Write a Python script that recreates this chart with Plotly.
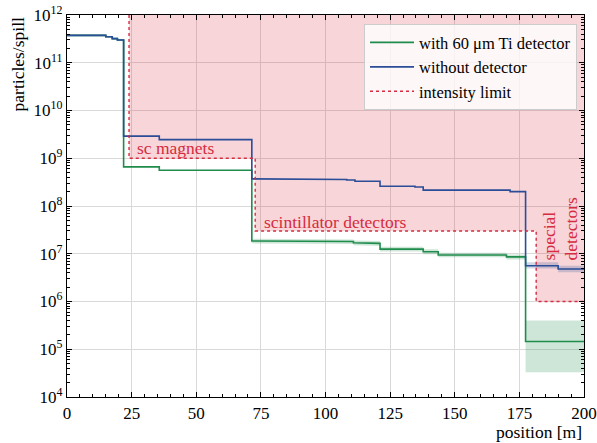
import plotly.graph_objects as go
import numpy as np

# ---- data (step functions: value holds from edge[i] to edge[i+1]) ----
edges_nodet = [0, 15, 17.5, 19.5, 21.9, 35.7, 71.5, 85.7, 108.2, 111.4, 121.1, 134.6, 137.8, 171.4, 177.4, 190, 200]
vals_nodet = [3.75e11, 3.5e11, 3.2e11, 3.0e11, 2.9e9, 2.45e9, 3.7e8, 3.6e8, 3.5e8, 3.3e8, 2.6e8, 2.5e8, 2.15e8, 2.0e8, 5.6e6, 4.8e6]

edges_ti = [0, 15, 17.5, 19.5, 21.9, 35.7, 71.5, 85.7, 110.8, 120.5, 121.1, 137.8, 143.6, 170, 177.4, 200]
vals_ti = [3.75e11, 3.5e11, 3.2e11, 3.0e11, 6.6e8, 5.6e8, 1.85e7, 1.8e7, 1.7e7, 1.65e7, 1.25e7, 1.1e7, 9.4e6, 8.6e6, 1.45e5]

# uncertainty bands
band_ti_edges = [71.5, 85.7, 110.8, 120.5, 121.1, 137.8, 143.6, 170, 177.4, 200]
band_ti_low = [1.65e7, 1.6e7, 1.5e7, 1.45e7, 1.12e7, 0.98e7, 0.84e7, 0.76e7, 3.3e4]
band_ti_high = [2.05e7, 2.0e7, 1.9e7, 1.85e7, 1.4e7, 1.24e7, 1.05e7, 0.97e7, 4.0e5]

band_nodet_edges = [177.4, 190, 200]
band_nodet_low = [4.9e6, 4.1e6]
band_nodet_high = [6.6e6, 5.6e6]

# intensity limit
limit_edges = [24.0, 72.8, 181.5, 200]
limit_vals = [1e9, 3e7, 1e6]
y_top = 1e12

x_ticks = [0, 25, 50, 75, 100, 125, 150, 175, 200]
y_exps = [4, 5, 6, 7, 8, 9, 10, 11, 12]

GREEN = "#1f8c4c"
BLUE = "#2b4c97"
RED = "#d62b40"
FONT = "Liberation Serif, Times New Roman, serif"


def step_xy(edges, vals):
    xs, ys = [], []
    for i, v in enumerate(vals):
        xs += [edges[i], edges[i + 1]]
        ys += [v, v]
    return xs, ys


fig = go.Figure()

# intensity-limit shaded region
lx, ly = step_xy(limit_edges, limit_vals)
fig.add_trace(go.Scatter(
    x=[limit_edges[0]] + lx + [limit_edges[-1], limit_edges[0]],
    y=[y_top] + ly + [y_top, y_top],
    fill="toself", fillcolor="rgba(214,43,64,0.2)", line=dict(width=0),
    mode="lines", showlegend=False, hoverinfo="skip"))

# bands
bx, bl = step_xy(band_ti_edges, band_ti_low)
_, bh = step_xy(band_ti_edges, band_ti_high)
fig.add_trace(go.Scatter(x=bx + bx[::-1], y=bl + bh[::-1], fill="toself",
                         fillcolor="rgba(31,140,76,0.22)", line=dict(width=0),
                         mode="lines", showlegend=False, hoverinfo="skip"))
bx2, bl2 = step_xy(band_nodet_edges, band_nodet_low)
_, bh2 = step_xy(band_nodet_edges, band_nodet_high)
fig.add_trace(go.Scatter(x=bx2 + bx2[::-1], y=bl2 + bh2[::-1], fill="toself",
                         fillcolor="rgba(43,76,151,0.22)", line=dict(width=0),
                         mode="lines", showlegend=False, hoverinfo="skip"))

# lines
gx, gy = step_xy(edges_ti, vals_ti)
fig.add_trace(go.Scatter(x=gx, y=gy, mode="lines", line=dict(color=GREEN, width=1.6),
                         name="with 60 μm Ti detector"))
nx, ny = step_xy(edges_nodet, vals_nodet)
fig.add_trace(go.Scatter(x=nx, y=ny, mode="lines", line=dict(color=BLUE, width=1.6),
                         name="without detector"))
fig.add_trace(go.Scatter(x=[limit_edges[0]] + lx, y=[y_top] + ly, mode="lines",
                         line=dict(color=RED, width=1.4, dash="dot"),
                         name="intensity limit"))

axis_common = dict(showline=True, linecolor="black", linewidth=1.2, mirror="allticks",
                   ticks="inside", ticklen=5, tickwidth=1, tickcolor="black",
                   showgrid=True, gridcolor="#d9d9d9", gridwidth=1, zeroline=False,
                   automargin=False,
                   tickfont=dict(family=FONT, size=17, color="black"))

fig.update_xaxes(range=[0, 200], tickvals=x_ticks, ticktext=[str(t) for t in x_ticks],
                 minor=dict(ticks="inside", ticklen=3, dtick=5, tickcolor="black", showgrid=False),
                 **axis_common)
fig.update_yaxes(type="log", range=[4, 12], tickvals=[10 ** e for e in y_exps],
                 ticktext=[f"10<sup>{e}</sup>" for e in y_exps],
                 minor=dict(ticks="inside", ticklen=3, dtick="D1", tickcolor="black", showgrid=False),
                 **axis_common)

ANN = 17.5
fig.add_annotation(x=26.4, y=9.21, text="sc magnets", showarrow=False, xanchor="left",
                   yanchor="middle", font=dict(family=FONT, size=ANN, color=RED))
fig.add_annotation(x=75.4, y=7.667, text="scintillator detectors", showarrow=False,
                   xanchor="left", yanchor="middle", font=dict(family=FONT, size=ANN, color=RED))
fig.add_annotation(x=190.7, y=7.53, text="special<br>detectors", showarrow=False,
                   textangle=-90, align="left", xanchor="center", yanchor="middle",
                   font=dict(family=FONT, size=ANN, color=RED))

fig.add_annotation(xref="paper", yref="paper", x=1.0, y=-0.091, text="position [m]",
                   showarrow=False, xanchor="right", yanchor="middle",
                   font=dict(family=FONT, size=ANN, color="black"))
fig.add_annotation(xref="paper", yref="paper", x=-0.094, y=1.0, text="particles/spill",
                   showarrow=False, textangle=-90, xanchor="center", yanchor="top",
                   font=dict(family=FONT, size=ANN, color="black"))

fig.update_layout(
    width=597, height=443,
    margin=dict(l=67, r=13, t=15, b=46),
    plot_bgcolor="white", paper_bgcolor="white",
    font=dict(family=FONT, size=17, color="black"),
    legend=dict(x=0.9865, y=0.976, xanchor="right", yanchor="top",
                bgcolor="rgba(255,255,255,0.8)", bordercolor="#cccccc", borderwidth=1,
                itemwidth=44, tracegroupgap=0,
                font=dict(family=FONT, size=16.5, color="black")),
)

fig.write_html("out.html", config={"displayModeBar": False},
               post_script="document.body.style.margin='0';")
